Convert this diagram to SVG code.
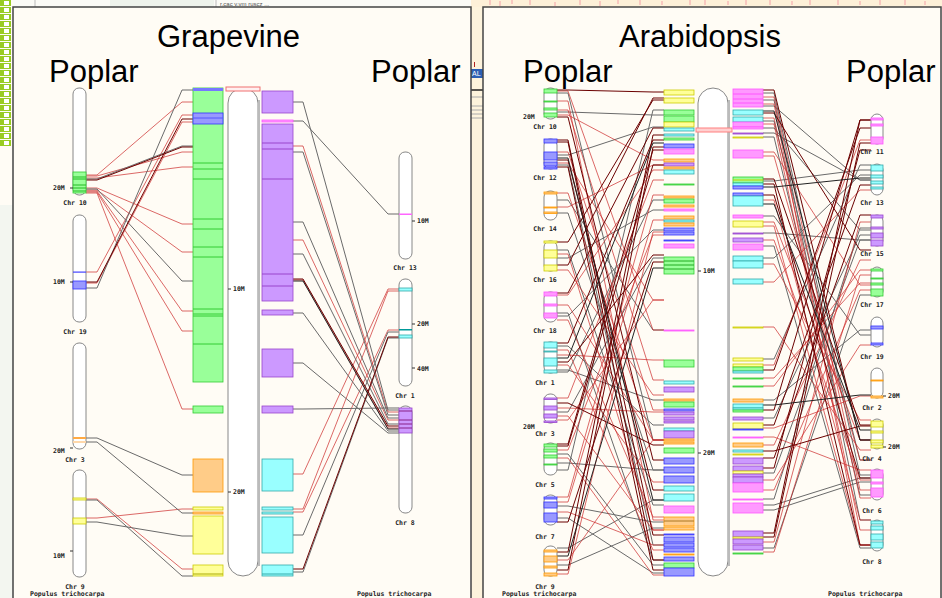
<svg xmlns="http://www.w3.org/2000/svg" width="942" height="598" viewBox="0 0 942 598">
<defs>
<pattern id="chk" x="0" y="0" width="13" height="7" patternUnits="userSpaceOnUse">
<rect width="13" height="7" fill="#fffcf5"/>
<rect x="0" y="0" width="11" height="6" fill="#99cc22"/>
<rect x="4" y="1" width="5" height="4" fill="#ffffff"/>
</pattern>
<style>
.ttl{font-family:"Liberation Sans",Arial,sans-serif;font-size:31px;fill:#000}
.lb{font-family:"DejaVu Sans Mono",monospace;font-weight:bold;font-size:6.5px;fill:#222}
.lbm{font-family:"DejaVu Sans Mono",monospace;font-weight:bold;font-size:6.5px;fill:#222;text-anchor:middle}
.ch{fill:#fff;stroke:#888;stroke-width:1}
.tk{stroke:#333;stroke-width:1}
.bg{fill:#99ff99;stroke:#33cc33;stroke-width:.8}
.bb{fill:#9999ff;stroke:#3333ff;stroke-width:.8}
.bo{fill:#ffcc88;stroke:#ff9900;stroke-width:.8}
.by{fill:#ffff99;stroke:#cccc00;stroke-width:.8}
.bp{fill:#ff99ff;stroke:#ff55ff;stroke-width:.8}
.bt{fill:#99ffff;stroke:#33aaaa;stroke-width:.8}
.bu{fill:#cc99ff;stroke:#9944cc;stroke-width:.8}
.cn path{fill:none;stroke-width:1}
.r path{stroke:#cc2a2a;stroke-opacity:.7}
.d path{stroke:#6b0000}
.g path{stroke:#6a6a6a}
.k path{stroke:#222}
</style>
</defs>

<!-- surrounding window -->
<rect width="942" height="598" fill="#f3f6f0"/>
<rect x="0" y="0" width="471" height="205" fill="#fffcf5"/>
<rect x="0" y="0" width="13" height="146" fill="url(#chk)"/>
<rect x="13" y="0" width="458" height="7" fill="#fbfbf7"/>
<rect x="110" y="0" width="104" height="7" fill="#eef3ec"/>
<line x1="35" y1="0" x2="35" y2="7" stroke="#bbb"/>
<line x1="216" y1="0" x2="216" y2="7" stroke="#bbb"/>
<text x="220" y="5.5" font-family="Liberation Sans,sans-serif" font-size="6" fill="#555">r.cac v.vm ruscz ...</text>
<rect x="471" y="0" width="471" height="7" fill="#fdf0d8"/>
<g stroke="#f4a0a8" stroke-width="1">
<path d="M490 0v5M500 1v5M512 0v4M530 0v5M555 2v4M580 0v5M600 1v5M618 0v4M640 0v5M662 1v4M690 0v5M705 0v5M728 1v4M746 0v5M770 0v5M792 1v4M810 0v5M838 0v5M860 1v4M880 0v5M905 0v5M925 1v4"/>
</g>
<rect x="471" y="7" width="12" height="591" fill="#fdf3dc"/>
<line x1="474.5" y1="62" x2="474.5" y2="67" stroke="#b02020" stroke-width="1"/>
<rect x="471" y="69" width="12" height="9" fill="#2b5fb4"/>
<text x="472" y="76" font-family="Liberation Sans,sans-serif" font-size="7" fill="#fff">AL</text>
<line x1="471" y1="90" x2="483" y2="90" stroke="#222" stroke-width="1.5"/>
<path d="M471 97h12M471 106h12M471 110h12M471 114h12M471 118h12" stroke="#aaa" stroke-width="1"/>

<!-- panels -->
<rect x="13" y="7" width="458" height="595" fill="#fffcf5" stroke="#444" stroke-width="1.5"/>
<rect x="483" y="7" width="458" height="595" fill="#fffcf5" stroke="#444" stroke-width="1.5"/>

<text class="ttl" x="157" y="47">Grapevine</text>
<text class="ttl" x="49" y="82">Poplar</text>
<text class="ttl" x="371" y="82">Poplar</text>
<text class="ttl" x="619" y="47">Arabidopsis</text>
<text class="ttl" x="523" y="82">Poplar</text>
<text class="ttl" x="846" y="82">Poplar</text>

<!-- ===== Grapevine panel: connectors ===== -->
<g id="vv-links" class="cn">
<g class="r">
<path d="M86 175h11L182 102h11M86 176h11L182 152h11M86 178h11L182 167h11M86 188h11L182 224h11M86 190h11L182 252h11M86 191h11L182 311h11M86 192h11L182 331h11M86 193h11L182 409h11M86 272h11L182 115h11M86 283h11L182 122h11M86 499h11L182 569h11M86 518h11L182 509h11"/>
<path d="M293 146h10L388 412h11M293 240h10L388 420h11M293 280h10L388 428h11M293 474h10L388 289h11M293 509h10L388 291h11M293 512h10L388 330h11"/>
</g>
<g class="g">
<path d="M86 179h11L182 146h11M86 189h11L182 281h11M86 288h11L182 90h11M86 438h11L182 475h11M86 442h11L182 513h11M86 500h11L182 576h11M86 522h11L182 536h11"/>
<path d="M293 102h10L388 410h11M293 121h10L388 214h11M293 152h10L388 415h11M293 222h10L388 418h11M293 254h10L388 424h11M293 313h10L388 431h11M293 363h10L388 433h11M293 409h10L388 408h11M293 535h10L388 332h11M293 572h10L388 338h11"/>
</g>
<g class="d">
<path d="M86 180h11L182 147h11M86 282h11L182 119h11M293 279h10L388 426h11M293 569h10L388 337h11"/>
</g>
<g class="k"><path d="M293 281h10L388 429h11"/></g>
</g>

<!-- Grapevine chromosome with syntenic blocks -->
<g id="vv-chr">
<rect class="ch" x="228" y="88" width="30" height="488" rx="15"/>
<line x1="259" y1="100" x2="259" y2="566" stroke="#bbb" stroke-width="2"/>
<rect x="226" y="87" width="34" height="4" fill="#fff0f0" stroke="#f07070" stroke-width="1"/>
<line class="tk" x1="228" y1="289" x2="231" y2="289"/>
<text class="lb" x="233" y="291">10M</text>
<line class="tk" x1="228" y1="492" x2="231" y2="492"/>
<text class="lb" x="233" y="494">20M</text>
</g>
<g id="vv-blocks-left">
<rect class="bg" x="193" y="88" width="30" height="294"/>
<rect x="193" y="88" width="30" height="3" fill="#7777ff"/>
<rect class="bb" x="193" y="113" width="30" height="11"/>
<line x1="193" y1="118" x2="223" y2="118" stroke="#5555ff"/>
<path d="M193 163h30M193 169h30M193 179h30M193 219h30M193 229h30M193 247h30M193 257h30M193 309h30M193 314h30M193 316h30M193 344h30" stroke="#33cc33" stroke-width="1"/>
<rect class="bg" x="193" y="406" width="30" height="7"/>
<rect class="bo" x="193" y="459" width="30" height="33"/>
<rect class="by" x="193" y="507" width="30" height="3"/>
<rect class="bo" x="193" y="512" width="30" height="2"/>
<rect class="by" x="193" y="516" width="30" height="38"/>
<rect class="by" x="193" y="565" width="30" height="11"/>
<line x1="193" y1="574" x2="223" y2="574" stroke="#aaaa00"/>
</g>
<g id="vv-blocks-right">
<rect class="bu" x="262" y="91" width="31" height="22"/>
<rect class="bp" x="262" y="120" width="31" height="2"/>
<rect class="bu" x="262" y="124" width="31" height="177"/>
<path d="M262 143h31M262 149h31M262 179h31M262 274h31M262 286h31" stroke="#9944cc" stroke-width="1"/>
<rect class="bu" x="262" y="310" width="31" height="5"/>
<rect class="bu" x="262" y="349" width="31" height="28"/>
<rect class="bu" x="262" y="406" width="31" height="7"/>
<rect class="bt" x="262" y="459" width="31" height="32"/>
<rect class="bt" x="262" y="507" width="31" height="3"/>
<rect class="bt" x="262" y="512" width="31" height="2"/>
<rect class="bt" x="262" y="517" width="31" height="36"/>
<rect class="bt" x="262" y="565" width="31" height="11"/>
<line x1="262" y1="574" x2="293" y2="574" stroke="#33aaaa"/>
</g>

<!-- Poplar chromosomes, grapevine panel -->
<g id="pt10-a">
<rect class="ch" x="73" y="88" width="13" height="107" rx="6"/>
<rect class="bg" x="73" y="172" width="13" height="21"/>
<path d="M73 177h13M73 179h13M73 185h13M73 188h13M73 191h13" stroke="#22bb22"/>
<line class="tk" x1="70" y1="188" x2="73" y2="188"/>
<text class="lb" x="53" y="190">20M</text>
<text class="lbm" x="75" y="205">Chr 10</text>
</g>
<g id="pt19-a">
<rect class="ch" x="73" y="215" width="13" height="107" rx="6"/>
<rect x="73" y="271.5" width="13" height="1.2" fill="#4444ff"/>
<rect class="bb" x="73" y="281" width="13" height="8"/>
<line class="tk" x1="70" y1="282" x2="73" y2="282"/>
<text class="lb" x="53" y="284">10M</text>
<text class="lbm" x="75" y="334">Chr 19</text>
</g>
<g id="pt3-a">
<rect class="ch" x="73" y="343" width="13" height="106" rx="6"/>
<rect x="73" y="437" width="13" height="2" fill="#ffaa44"/>
<rect x="73" y="441" width="13" height="2" fill="#ffd8aa"/>
<line class="tk" x1="70" y1="448" x2="73" y2="448"/>
<text class="lb" x="53" y="453">20M</text>
<text class="lbm" x="75" y="462">Chr 3</text>
</g>
<g id="pt9-a">
<rect class="ch" x="73" y="470" width="13" height="107" rx="6"/>
<rect class="by" x="73" y="498" width="13" height="2"/>
<rect class="by" x="73" y="518" width="13" height="6"/>
<line class="tk" x1="70" y1="551" x2="73" y2="551"/>
<text class="lb" x="53" y="558">10M</text>
<text class="lbm" x="75" y="589">Chr 9</text>
</g>
<text class="lb" x="30" y="596">Populus trichocarpa</text>

<g id="pt13-a">
<rect class="ch" x="399" y="152" width="13" height="107" rx="6"/>
<rect x="399" y="213.5" width="13" height="1.5" fill="#ff66ff"/>
<line class="tk" x1="412" y1="221" x2="415" y2="221"/>
<text class="lb" x="417" y="223">10M</text>
<text class="lbm" x="405" y="270">Chr 13</text>
</g>
<g id="pt1-a">
<rect class="ch" x="399" y="279" width="13" height="107" rx="6"/>
<rect class="bt" x="399" y="288" width="13" height="3"/>
<rect x="399" y="329" width="13" height="1.5" fill="#009999"/>
<rect class="bt" x="399" y="335" width="13" height="3"/>
<line class="tk" x1="412" y1="324" x2="415" y2="324"/>
<text class="lb" x="417" y="326">20M</text>
<line class="tk" x1="412" y1="368" x2="415" y2="368"/>
<text class="lb" x="417" y="371">40M</text>
<text class="lbm" x="405" y="398">Chr 1</text>
</g>
<g id="pt8-a">
<rect class="ch" x="399" y="406" width="13" height="107" rx="6"/>
<rect class="bu" x="399" y="408" width="13" height="25"/>
<path d="M399 411h13M399 420h13M399 424h13M399 428h13" stroke="#882288" stroke-width="1.2"/>
<text class="lbm" x="405" y="525">Chr 8</text>
</g>
<text class="lb" x="357" y="596">Populus trichocarpa</text>

<!-- ===== Arabidopsis panel: connectors ===== -->
<g id="at-links" class="cn">
<g class="g">
<path d="M557 93h11L653 440h11M557 112h11L653 115h11M557 155h11L653 127h11M557 165h11L653 545h11M557 213h11L653 470h11M557 200h11L653 330h11M557 250h11L653 505h11M557 258h11L653 210h11M557 313h11L653 560h11M557 316h11L653 230h11M557 346h11L653 425h11M557 370h11L653 400h11M557 372h11L653 200h11M557 412h11L653 258h11M557 454h11L653 565h11M557 463h11L653 470h11M557 470h11L653 110h11M557 506h11L653 522h11M557 518h11L653 573h11M557 548h11L653 500h11M557 565h11L653 528h11"/>
<path d="M763 93h11L860 475h11M763 100h11L860 520h11M763 106h11L860 180h11M763 121h11L860 460h11M763 128h11L860 230h11M763 133h11L860 180h11M763 137h11L860 495h11M763 181h11L860 170h11M763 216h11L860 335h11M763 233h11L860 240h11M763 246h11L860 548h11M763 258h11L860 175h11M763 359h11L860 165h11M763 400h11L860 330h11M763 418h11L860 235h11M763 473h11L860 240h11M763 499h11L860 228h11M763 505h11L860 478h11M763 510h11L860 482h11M763 548h11L860 295h11"/>
</g>
<g class="r">
<path d="M557 91h11L653 330h11M557 101h11L653 520h11M557 115h11L653 160h11M557 110h11L653 380h11M557 152h11L653 410h11M557 163h11L653 300h11M557 193h11L653 440h11M557 207h11L653 165h11M557 254h11L653 530h11M557 270h11L653 395h11M557 295h11L653 170h11M557 305h11L653 440h11M557 320h11L653 517h11M557 350h11L653 550h11M557 355h11L653 360h11M557 365h11L653 482h11M557 398h11L653 180h11M557 408h11L653 412h11M557 416h11L653 530h11M557 420h11L653 300h11M557 450h11L653 235h11M557 458h11L653 575h11M557 497h11L653 195h11M557 502h11L653 220h11M557 512h11L653 545h11M557 560h11L653 440h11M557 574h11L653 232h11"/>
<path d="M763 97h11L860 490h11M763 104h11L860 545h11M763 118h11L860 498h11M763 124h11L860 530h11M763 152h11L860 285h11M763 156h11L860 460h11M763 200h11L860 520h11M763 222h11L860 440h11M763 226h11L860 545h11M763 240h11L860 480h11M763 264h11L860 420h11M763 282h11L860 190h11M763 327h11L860 450h11M763 365h11L860 140h11M763 378h11L860 283h11M763 386h11L860 270h11M763 428h11L860 396h11M763 437h11L860 470h11M763 445h11L860 260h11M763 480h11L860 345h11M763 490h11L860 290h11M763 542h11L860 222h11M763 552h11L860 275h11"/>
</g>
<g class="d">
<path d="M557 90h11L653 92h11M557 117h11L653 460h11M557 140h11L653 535h11M557 142h11L653 560h11M557 160h11L653 490h11M557 167h11L653 570h11M557 242h11L653 100h11M557 265h11L653 98h11M557 293h11L653 128h11M557 343h11L653 140h11M557 362h11L653 255h11M557 403h11L653 445h11M557 444h11L653 150h11M557 446h11L653 165h11M557 522h11L653 262h11M557 552h11L653 135h11M557 570h11L653 147h11"/>
<path d="M763 90h11L860 440h11M763 113h11L860 250h11M763 179h11L860 425h11M763 184h11L860 545h11M763 195h11L860 478h11M763 370h11L860 128h11M763 410h11L860 120h11M763 425h11L860 185h11M763 451h11L860 426h11M763 458h11L860 215h11M763 468h11L860 150h11M763 533h11L860 120h11M763 537h11L860 143h11"/>
</g>
<g class="k">
<path d="M557 158h11L653 500h11M557 358h11L653 143h11M557 556h11L653 268h11"/>
<path d="M763 111h11L860 440h11M763 187h11L860 178h11M763 204h11L860 430h11M763 405h11L860 395h11"/>
</g>
</g>

<!-- Arabidopsis chromosome -->
<g id="at-chr">
<rect class="ch" x="698" y="88" width="30" height="488" rx="15"/>
<line x1="729" y1="100" x2="729" y2="566" stroke="#bbb" stroke-width="2"/>
<rect x="696" y="128" width="36" height="4" fill="#ffd0d0" stroke="#ff8080" stroke-width="1"/>
<line class="tk" x1="698" y1="271" x2="701" y2="271"/>
<text class="lb" x="703" y="273">10M</text>
<line class="tk" x1="698" y1="453" x2="701" y2="453"/>
<text class="lb" x="703" y="455">20M</text>
</g>
<g id="at-blocks-left">
<rect class="by" x="664" y="90" width="30" height="5"/><rect class="by" x="664" y="98" width="30" height="5"/>
<rect class="bg" x="664" y="110" width="30" height="5"/><rect class="bg" x="664" y="116" width="30" height="6"/>
<rect class="by" x="664" y="122" width="30" height="5"/><rect class="bt" x="664" y="128" width="30" height="3"/>
<rect class="bt" x="664" y="134" width="30" height="2"/><rect class="bg" x="664" y="138" width="30" height="2"/>
<rect class="bb" x="664" y="144" width="30" height="4"/><rect class="bp" x="664" y="149" width="30" height="5"/>
<rect class="bo" x="664" y="159" width="30" height="3"/><rect class="bu" x="664" y="163" width="30" height="3"/>
<rect class="bo" x="664" y="167" width="30" height="2"/><rect class="bt" x="664" y="170" width="30" height="4"/>
<rect class="bg" x="664" y="184" width="30" height="1"/><rect class="bo" x="664" y="196" width="30" height="2"/>
<rect class="bg" x="664" y="199" width="30" height="4"/><rect class="bo" x="664" y="205" width="30" height="2"/>
<rect class="bp" x="664" y="209" width="30" height="2"/><rect class="bo" x="664" y="216" width="30" height="3"/>
<rect class="bt" x="664" y="220" width="30" height="2"/><rect class="bo" x="664" y="223" width="30" height="3"/>
<rect class="bb" x="664" y="228" width="30" height="3"/><rect class="bb" x="664" y="232" width="30" height="3"/>
<rect class="bb" x="664" y="240" width="30" height="1"/><rect class="bp" x="664" y="244" width="30" height="4"/>
<rect class="bg" x="664" y="257" width="30" height="17"/>
<path d="M664 261h30M664 265h30M664 269h30" stroke="#22aa22"/>
<rect class="bp" x="664" y="330" width="30" height="1"/><rect class="bg" x="664" y="360" width="30" height="7"/>
<rect class="bt" x="664" y="381" width="30" height="3"/><rect class="bu" x="664" y="387" width="30" height="5"/>
<rect class="bo" x="664" y="399" width="30" height="2"/><rect class="bg" x="664" y="402" width="30" height="5"/>
<rect class="bb" x="664" y="409" width="30" height="2"/><rect class="bu" x="664" y="412" width="30" height="3"/>
<rect class="bu" x="664" y="417" width="30" height="3"/><rect class="bu" x="664" y="421" width="30" height="2"/>
<rect class="bt" x="664" y="428" width="30" height="3"/><rect class="bu" x="664" y="431" width="30" height="7"/>
<rect class="bo" x="664" y="439" width="30" height="2"/><rect class="bo" x="664" y="442" width="30" height="2"/>
<rect class="bg" x="664" y="448" width="30" height="5"/><rect class="bb" x="664" y="458" width="30" height="6"/>
<rect class="bb" x="664" y="467" width="30" height="6"/><rect class="bb" x="664" y="476" width="30" height="7"/>
<rect class="bt" x="664" y="486" width="30" height="5"/><rect class="bt" x="664" y="494" width="30" height="7"/>
<rect class="bp" x="664" y="506" width="30" height="7"/><rect class="bo" x="664" y="517" width="30" height="9"/>
<line x1="664" y1="521" x2="694" y2="521" stroke="#aa7722"/>
<rect class="bo" x="664" y="527" width="30" height="3"/><rect class="bb" x="664" y="534" width="30" height="1"/>
<rect class="bb" x="664" y="537" width="30" height="5"/><rect class="bb" x="664" y="543" width="30" height="4"/>
<rect class="bb" x="664" y="548" width="30" height="4"/><rect class="bo" x="664" y="554" width="30" height="1"/>
<rect class="bb" x="664" y="557" width="30" height="4"/><rect class="bg" x="664" y="563" width="30" height="5"/>
<rect class="bb" x="664" y="568" width="30" height="8"/>
</g>
<g id="at-blocks-right">
<rect class="bp" x="733" y="89" width="30" height="18"/>
<path d="M733 94h30M733 99h30M733 103h30" stroke="#ff55ff"/>
<rect class="bt" x="733" y="110" width="30" height="5"/><rect class="bt" x="733" y="117" width="30" height="5"/>
<rect class="bp" x="733" y="122" width="30" height="5"/><rect class="bp" x="733" y="127" width="30" height="2"/>
<rect class="bu" x="733" y="133" width="30" height="1"/><rect class="by" x="733" y="137" width="30" height="1"/>
<rect class="bp" x="733" y="150" width="30" height="8"/><rect class="bg" x="733" y="177" width="30" height="6"/>
<line x1="733" y1="180" x2="763" y2="180" stroke="#cccc00"/>
<rect class="bt" x="733" y="183" width="30" height="3"/><rect class="bb" x="733" y="186" width="30" height="3"/>
<rect class="bb" x="733" y="193" width="30" height="3"/><rect class="bt" x="733" y="196" width="30" height="10"/>
<rect class="bp" x="733" y="215" width="30" height="3"/><rect class="by" x="733" y="221" width="30" height="6"/>
<rect class="bu" x="733" y="233" width="30" height="1"/><rect class="bu" x="733" y="238" width="30" height="4"/>
<rect class="bp" x="733" y="244" width="30" height="6"/><rect class="bt" x="733" y="256" width="30" height="5"/>
<rect class="bt" x="733" y="261" width="30" height="7"/><rect class="bt" x="733" y="279" width="30" height="5"/>
<rect class="by" x="733" y="327" width="30" height="1"/><rect class="by" x="733" y="358" width="30" height="3"/>
<rect class="by" x="733" y="364" width="30" height="3"/><rect class="bg" x="733" y="367" width="30" height="4"/>
<rect class="bt" x="733" y="371" width="30" height="2"/><rect class="bg" x="733" y="378" width="30" height="1"/>
<rect class="bg" x="733" y="386" width="30" height="1"/><rect class="bo" x="733" y="399" width="30" height="3"/>
<rect class="bt" x="733" y="404" width="30" height="4"/><rect class="bt" x="733" y="408" width="30" height="2"/>
<rect class="bg" x="733" y="410" width="30" height="2"/><rect class="bu" x="733" y="417" width="30" height="3"/>
<rect class="by" x="733" y="423" width="30" height="6"/><rect class="bb" x="733" y="429" width="30" height="1"/>
<rect class="bp" x="733" y="437" width="30" height="1"/><rect class="bo" x="733" y="443" width="30" height="4"/>
<rect class="bt" x="733" y="450" width="30" height="2"/><rect class="by" x="733" y="454" width="30" height="1"/>
<rect class="bu" x="733" y="458" width="30" height="6"/><rect class="bu" x="733" y="466" width="30" height="5"/>
<rect class="by" x="733" y="471" width="30" height="3"/><rect class="bu" x="733" y="474" width="30" height="3"/>
<rect class="bu" x="733" y="477" width="30" height="6"/><rect class="bp" x="733" y="483" width="30" height="9"/>
<rect class="bp" x="733" y="499" width="30" height="1"/><rect class="bp" x="733" y="503" width="30" height="10"/>
<rect class="bu" x="733" y="531" width="30" height="6"/><rect class="by" x="733" y="537" width="30" height="2"/>
<rect class="bu" x="733" y="539" width="30" height="5"/><rect class="bu" x="733" y="545" width="30" height="5"/>
<rect class="bg" x="733" y="553" width="30" height="1"/>
</g>

<!-- Poplar chromosomes, Arabidopsis panel, left column -->
<g id="pt10-b">
<rect class="ch" x="544" y="88" width="13" height="31" rx="6"/>
<rect class="bg" x="544" y="89" width="13" height="4"/><rect class="bg" x="544" y="101" width="13" height="1"/>
<rect class="bg" x="544" y="108" width="13" height="2"/><rect class="bg" x="544" y="113" width="13" height="4"/>
<text class="lb" x="523" y="119">20M</text>
<text class="lbm" x="545" y="129">Chr 10</text>
</g>
<g id="pt12-b">
<rect class="ch" x="544" y="139" width="13" height="30" rx="6"/>
<rect class="bb" x="544" y="139" width="13" height="4"/><rect class="bb" x="544" y="152" width="13" height="8"/>
<rect class="bb" x="544" y="162" width="13" height="4"/><rect class="bb" x="544" y="167" width="13" height="2"/>
<text class="lbm" x="545" y="180">Chr 12</text>
</g>
<g id="pt14-b">
<rect class="ch" x="544" y="191" width="13" height="29" rx="6"/>
<rect class="bo" x="544" y="192" width="13" height="2"/><rect class="bo" x="544" y="207" width="13" height="1"/>
<rect class="bo" x="544" y="212" width="13" height="1.5"/>
<text class="lbm" x="545" y="231">Chr 14</text>
</g>
<g id="pt16-b">
<rect class="ch" x="544" y="241" width="13" height="30" rx="6"/>
<rect class="by" x="544" y="241" width="13" height="2"/><rect class="by" x="544" y="250" width="13" height="8"/>
<rect class="by" x="544" y="265" width="13" height="6"/>
<text class="lbm" x="545" y="282">Chr 16</text>
</g>
<g id="pt18-b">
<rect class="ch" x="544" y="292" width="13" height="30" rx="6"/>
<rect class="bp" x="544" y="292" width="13" height="4"/><rect class="bp" x="544" y="304" width="13" height="2"/>
<rect class="bp" x="544" y="313" width="13" height="5"/>
<text class="lbm" x="545" y="333">Chr 18</text>
</g>
<g id="pt1-b">
<rect class="ch" x="544" y="342" width="13" height="31" rx="6"/>
<rect class="bt" x="544" y="342" width="13" height="6"/><rect class="bt" x="544" y="351" width="13" height="1"/>
<rect class="bt" x="544" y="358" width="13" height="8"/><rect class="bt" x="544" y="370" width="13" height="3"/>
<text class="lbm" x="545" y="385">Chr 1</text>
</g>
<g id="pt3-b">
<rect class="ch" x="544" y="394" width="13" height="29" rx="6"/>
<rect class="bu" x="544" y="398" width="13" height="1.5"/><rect class="bu" x="544" y="406" width="13" height="4"/>
<rect class="bu" x="544" y="414" width="13" height="4"/><rect class="bu" x="544" y="421" width="13" height="1.5"/>
<text class="lb" x="523" y="429">20M</text>
<text class="lbm" x="545" y="436">Chr 3</text>
</g>
<g id="pt5-b">
<rect class="ch" x="544" y="443" width="13" height="32" rx="6"/>
<rect class="bg" x="544" y="444" width="13" height="3"/><rect class="bg" x="544" y="449" width="13" height="3"/>
<rect class="bg" x="544" y="455" width="13" height="3"/><rect class="bg" x="544" y="464" width="13" height="1"/>
<text class="lbm" x="545" y="487">Chr 5</text>
</g>
<g id="pt7-b">
<rect class="ch" x="544" y="495" width="13" height="30" rx="6"/>
<rect class="bb" x="544" y="497" width="13" height="2"/><rect class="bb" x="544" y="502" width="13" height="6"/>
<rect class="bb" x="544" y="513" width="13" height="9"/>
<text class="lbm" x="545" y="539">Chr 7</text>
</g>
<g id="pt9-b">
<rect class="ch" x="544" y="546" width="13" height="30" rx="6"/>
<rect class="bo" x="544" y="550" width="13" height="2"/><rect class="bo" x="544" y="556" width="13" height="6"/>
<rect class="bo" x="544" y="566" width="13" height="2"/><rect class="bo" x="544" y="573" width="13" height="3"/>
<text class="lbm" x="545" y="589">Chr 9</text>
</g>
<text class="lb" x="502" y="596">Populus trichocarpa</text>

<!-- Poplar chromosomes, Arabidopsis panel, right column -->
<g id="pt11-b">
<rect class="ch" x="871" y="114" width="12" height="30" rx="6"/>
<rect class="bp" x="871" y="118" width="12" height="2"/><rect class="bp" x="871" y="124" width="12" height="2"/>
<rect class="bp" x="871" y="137" width="12" height="7"/>
<text class="lbm" x="872" y="154">Chr 11</text>
</g>
<g id="pt13-b">
<rect class="ch" x="871" y="164" width="12" height="31" rx="6"/>
<rect class="bt" x="871" y="165" width="12" height="6"/><rect class="bt" x="871" y="175" width="12" height="3"/>
<rect class="bt" x="871" y="181" width="12" height="3"/><rect class="bt" x="871" y="187" width="12" height="2"/>
<text class="lbm" x="872" y="205">Chr 13</text>
</g>
<g id="pt15-b">
<rect class="ch" x="871" y="215" width="12" height="31" rx="6"/>
<rect class="bu" x="871" y="215" width="12" height="3"/><rect class="bu" x="871" y="227" width="12" height="2"/>
<rect class="bu" x="871" y="233" width="12" height="5"/><rect class="bu" x="871" y="240" width="12" height="6"/>
<text class="lbm" x="872" y="256">Chr 15</text>
</g>
<g id="pt17-b">
<rect class="ch" x="871" y="267" width="12" height="30" rx="6"/>
<rect class="bg" x="871" y="269" width="12" height="2"/><rect class="bg" x="871" y="278" width="12" height="1"/>
<rect class="bg" x="871" y="283" width="12" height="2"/><rect class="bg" x="871" y="289" width="12" height="7"/>
<text class="lbm" x="872" y="307">Chr 17</text>
</g>
<g id="pt19-b">
<rect class="ch" x="871" y="317" width="12" height="30" rx="6"/>
<rect class="bb" x="871" y="326" width="12" height="3"/><rect class="bb" x="871" y="343" width="12" height="2"/>
<text class="lbm" x="872" y="359">Chr 19</text>
</g>
<g id="pt2-b">
<rect class="ch" x="871" y="368" width="12" height="30" rx="6"/>
<rect class="bo" x="871" y="380" width="12" height="1"/><rect class="bo" x="871" y="396" width="12" height="2"/>
<line class="tk" x1="883" y1="396" x2="886" y2="396"/>
<text class="lb" x="888" y="398">20M</text>
<text class="lbm" x="872" y="410">Chr 2</text>
</g>
<g id="pt4-b">
<rect class="ch" x="871" y="419" width="12" height="30" rx="6"/>
<rect class="by" x="871" y="421" width="12" height="6"/><rect class="by" x="871" y="431" width="12" height="2"/>
<rect class="by" x="871" y="440" width="12" height="3"/><rect class="by" x="871" y="445" width="12" height="3"/>
<line class="tk" x1="883" y1="447" x2="886" y2="447"/>
<text class="lb" x="888" y="449">20M</text>
<text class="lbm" x="872" y="461">Chr 4</text>
</g>
<g id="pt6-b">
<rect class="ch" x="871" y="469" width="12" height="31" rx="6"/>
<rect class="bp" x="871" y="470" width="12" height="8"/><rect class="bp" x="871" y="482" width="12" height="2"/>
<rect class="bp" x="871" y="488" width="12" height="9"/>
<text class="lbm" x="872" y="513">Chr 6</text>
</g>
<g id="pt8-b">
<rect class="ch" x="871" y="520" width="12" height="31" rx="6"/>
<rect class="bt" x="871" y="521" width="12" height="3"/><rect class="bt" x="871" y="526" width="12" height="4"/>
<rect class="bt" x="871" y="534" width="12" height="6"/><rect class="bt" x="871" y="542" width="12" height="6"/>
<text class="lbm" x="872" y="564">Chr 8</text>
</g>
<text class="lb" x="828" y="596">Populus trichocarpa</text>
</svg>
